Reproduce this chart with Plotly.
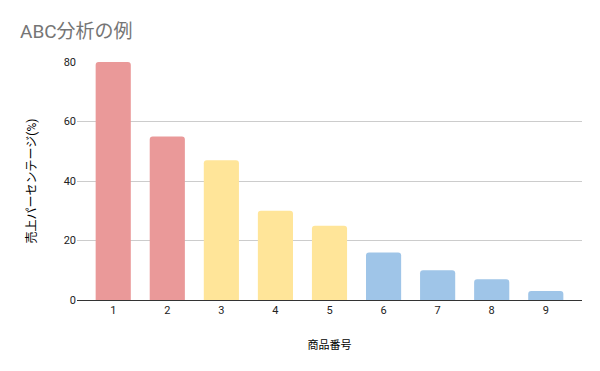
import plotly.graph_objects as go

categories = ["1", "2", "3", "4", "5", "6", "7", "8", "9"]
values = [80, 55, 47, 30, 25, 16, 10, 7, 3]
colors = ["#EA9999", "#EA9999", "#FFE599", "#FFE599", "#FFE599",
          "#9FC5E8", "#9FC5E8", "#9FC5E8", "#9FC5E8"]
y_ticks = [0, 20, 40, 60, 80]

font = "Roboto, 'Noto Sans CJK JP', sans-serif"

fig = go.Figure(go.Bar(
    x=categories, y=values,
    marker=dict(color=colors, line=dict(width=0), cornerradius=3),
    width=0.65,
))

fig.update_layout(
    width=600, height=371,
    margin=dict(l=77, r=18, t=62, b=71),
    paper_bgcolor="white", plot_bgcolor="white",
    title=dict(text="ABC分析の例", x=20/600, xanchor="left", y=1-31/371, yanchor="middle",
               font=dict(family=font, size=19, color="#757575")),
    font=dict(family=font, size=11, color="#222222"),
    showlegend=False,
    bargap=0.35,
)
fig.update_xaxes(
    type="category", range=[-0.67, 8.67],
    showgrid=False, showline=True, linecolor="#333333", linewidth=1,
    ticks="", tickfont=dict(size=11, color="#222222"),
    title=dict(text="商品番号", font=dict(size=11, color="#000000"), standoff=25),
)
fig.update_yaxes(
    range=[0, 80], tickvals=y_ticks,
    showgrid=True, gridcolor="#CCCCCC", gridwidth=1,
    zeroline=False, showline=False,
    ticks="", ticklen=0, tickfont=dict(size=11, color="#222222"),
    title=dict(text="売上パーセンテージ(%)", font=dict(size=12, color="#000000"), standoff=24),
)

fig.write_html("out.html")
